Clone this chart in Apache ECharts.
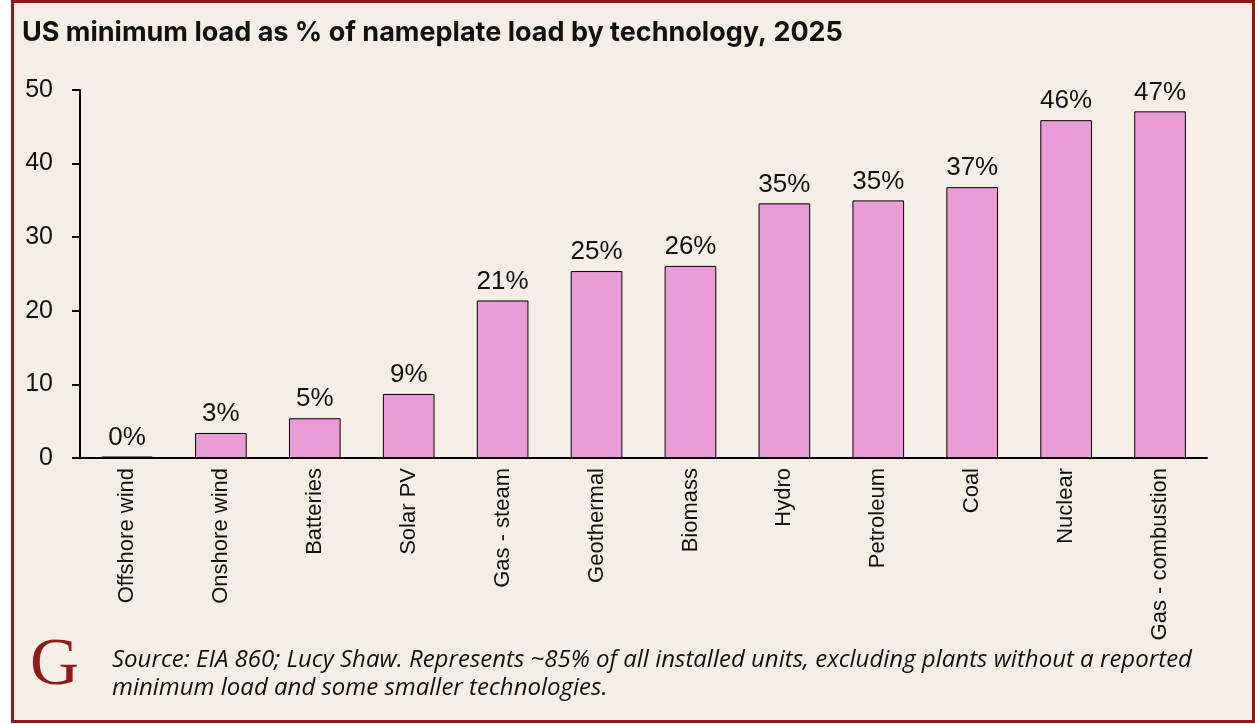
<!DOCTYPE html>
<html>
<head>
<meta charset="utf-8">
<script src="https://cdn.jsdelivr.net/npm/echarts@6/dist/echarts.min.js"></script>
<style>
html,body{margin:0;padding:0;background:#ffffff;}
#chart{width:1255px;height:724px;}
</style>
</head>
<body>
<div id="chart"></div>
<script>
const categories = ['Offshore wind','Onshore wind','Batteries','Solar PV','Gas - steam','Geothermal','Biomass','Hydro','Petroleum','Coal','Nuclear','Gas - combustion'];
const values = [0.2, 3.4, 5.4, 8.7, 21.4, 25.4, 26.1, 34.6, 35.0, 36.8, 45.9, 47.1];
const yTicks = [0, 10, 20, 30, 40, 50];
const titleText = 'US minimum load as % of nameplate load by technology, 2025';
const sourceLines = ['Source: EIA 860; Lucy Shaw. Represents ~85% of all installed units, excluding plants without a reported', 'minimum load and some smaller technologies.'];

const chart = echarts.init(document.getElementById('chart'), null, {renderer:'canvas'});
const option = {
  backgroundColor: 'transparent',
  animation: false,
  grid: {left: 80, right: 48, top: 90, bottom: 266, containLabel: false},
  xAxis: {
    type: 'category',
    data: categories,
    axisLine: {lineStyle: {color: '#000', width: 2}},
    axisTick: {show: false},
    axisLabel: {rotate: 90, color: '#111', fontFamily: 'Liberation Sans, Arial, sans-serif', fontSize: 22, margin: 10, interval: 0}
  },
  yAxis: {
    type: 'value',
    min: yTicks[0], max: yTicks[yTicks.length-1], interval: 10,
    axisLine: {show: true, lineStyle: {color: '#000', width: 2}},
    axisTick: {show: true, length: 8, lineStyle: {color: '#000', width: 2}},
    splitLine: {show: false},
    axisLabel: {color: '#111', fontFamily: 'Liberation Sans, Arial, sans-serif', fontSize: 25, margin: 27}
  },
  series: [{
    type: 'bar',
    data: values,
    barWidth: '55%',
    itemStyle: {color: '#EA9CD8', borderColor: '#000', borderWidth: 1},
    label: {
      show: true, position: 'top', distance: 6,
      color: '#111', fontFamily: 'Liberation Sans, Arial, sans-serif', fontSize: 26,
      formatter: p => Math.round(p.value) + '%'
    }
  }],
  graphic: [
    {type: 'rect', z: -10, shape: {x: 12.5, y: 1.5, width: 1241, height: 720}, style: {fill: '#F5EEE5', stroke: '#8E1B1B', lineWidth: 3}},
    {type: 'text', left: 22, top: 19, style: {text: titleText, fill: '#111', font: 'bold 27px Inter, "Open Sans", sans-serif'}},
    {type: 'text', left: 30, top: 632, style: {text: 'G', fill: '#8E1B1B', font: '68px "Liberation Serif", "DejaVu Serif", serif'}},
    {type: 'text', left: 112, top: 646, style: {text: sourceLines.join('\n'), fill: '#111', font: 'italic 24px "Open Sans", sans-serif', lineHeight: 28}}
  ]
};
chart.setOption(option);
</script>
</body>
</html>
